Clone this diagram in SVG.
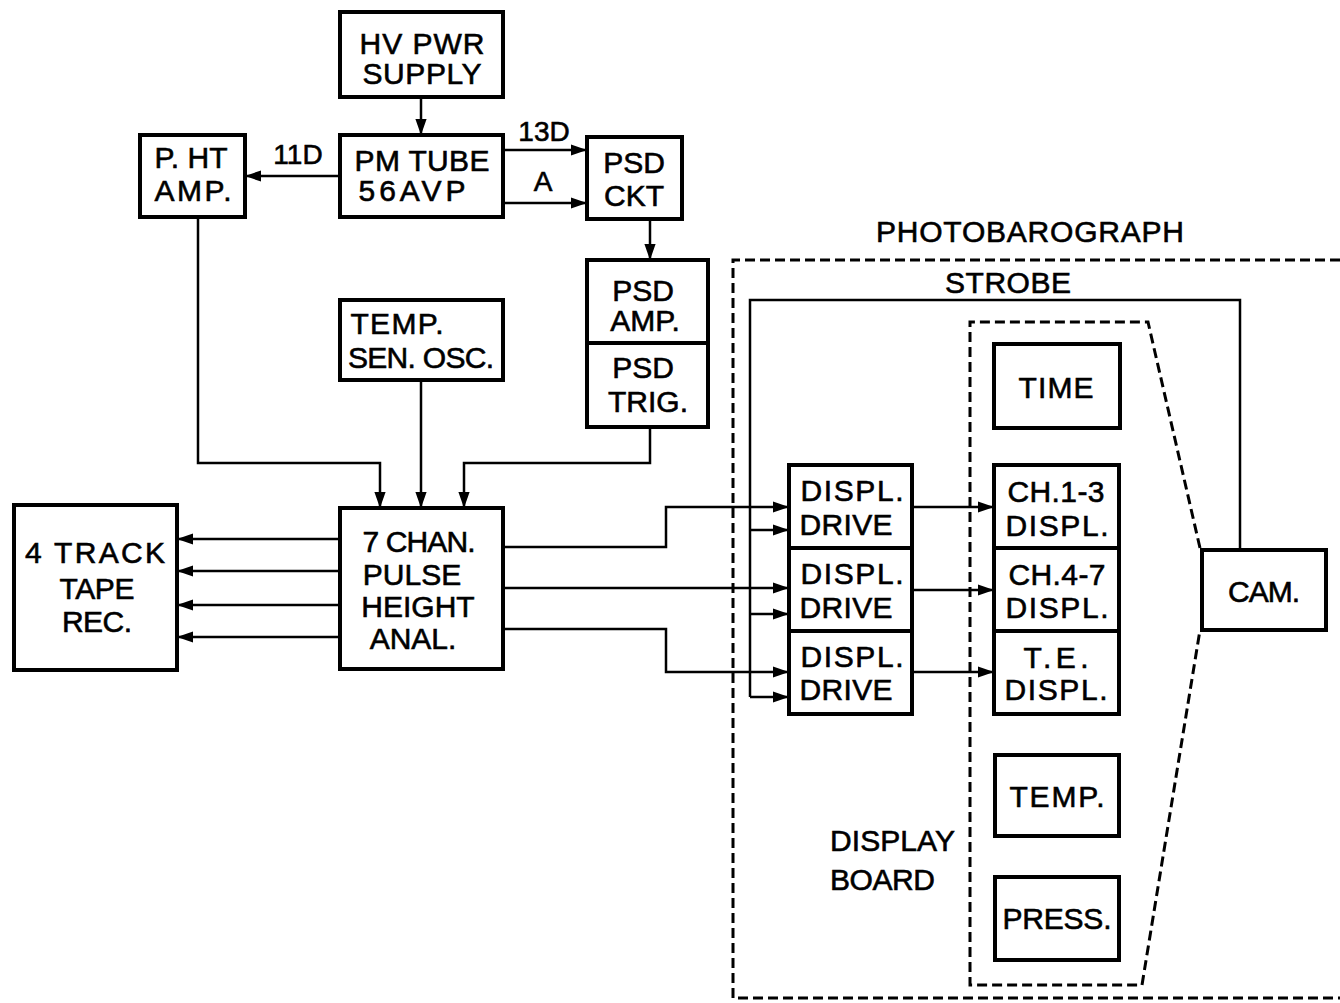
<svg xmlns="http://www.w3.org/2000/svg" width="1340" height="1003" viewBox="0 0 1340 1003">
<defs>
<marker id="ah" viewBox="0 0 10 10" refX="10" refY="5" markerWidth="16" markerHeight="16" markerUnits="userSpaceOnUse" orient="auto">
<path d="M0,1.5 L10,5 L0,8.5 Z" fill="#000"/>
</marker>
<style>
.box{fill:#fff;stroke:#000;stroke-width:4}
.ln{fill:none;stroke:#000;stroke-width:2.5}
.arr{fill:none;stroke:#000;stroke-width:2.5;marker-end:url(#ah)}
.dash{fill:none;stroke:#000;stroke-width:3;stroke-dasharray:10 5}
text{font-family:"Liberation Sans",Arial,sans-serif;font-size:30px;fill:#000;stroke:#000;stroke-width:0.6;text-anchor:middle}
.lbl{font-size:28px}
</style>
</defs>
<rect width="1340" height="1003" fill="#fff"/>

<g id="frames">
<path class="dash" d="M1340,260 L733,260 L733,998 L1340,998"/>
<path class="ln" d="M750,697 L750,300 L1240,300 L1240,550"/>
<path class="dash" d="M1200,548 L1148,322 L970,322 L970,985 L1142,985 L1200,630"/>
<text x="1030" y="242" textLength="308" lengthAdjust="spacing">PHOTOBAROGRAPH</text>
<text x="1008" y="293" textLength="126" lengthAdjust="spacing">STROBE</text>
<text x="830" y="851" style="text-anchor:start" textLength="125" lengthAdjust="spacing">DISPLAY</text>
<text x="830" y="890" style="text-anchor:start" textLength="105" lengthAdjust="spacing">BOARD</text>
</g>

<g id="connectors">
<path class="arr" d="M421,97 L421,135"/>
<path class="arr" d="M340,176 L245,176"/>
<path class="arr" d="M503,150 L587,150"/>
<path class="arr" d="M503,203 L587,203"/>
<path class="arr" d="M650,219 L650,260"/>
<path class="arr" d="M198,217 L198,463 L380,463 L380,508"/>
<path class="arr" d="M421,380 L421,508"/>
<path class="arr" d="M650,427 L650,463 L464,463 L464,508"/>
<path class="arr" d="M340,539 L177,539"/>
<path class="arr" d="M340,571 L177,571"/>
<path class="arr" d="M340,605 L177,605"/>
<path class="arr" d="M340,637 L177,637"/>
<path class="arr" d="M503,547 L666,547 L666,507 L789,507"/>
<path class="arr" d="M503,588 L789,588"/>
<path class="arr" d="M503,629 L666,629 L666,672 L789,672"/>
<path class="arr" d="M750,530 L789,530"/>
<path class="arr" d="M750,614 L789,614"/>
<path class="arr" d="M750,697 L789,697"/>
<path class="arr" d="M912,507 L994,507"/>
<path class="arr" d="M912,590 L994,590"/>
<path class="arr" d="M912,672 L994,672"/>
<text class="lbl" x="298" y="164">11D</text>
<text class="lbl" x="544" y="141">13D</text>
<text class="lbl" x="543" y="191">A</text>
</g>

<g id="hv">
<rect class="box" x="340" y="12" width="163" height="85"/>
<text x="422" y="54" textLength="125" lengthAdjust="spacing">HV PWR</text>
<text x="422" y="84" textLength="119" lengthAdjust="spacing">SUPPLY</text>
</g>
<g id="pm">
<rect class="box" x="340" y="135" width="163" height="82"/>
<text x="422" y="171" textLength="135" lengthAdjust="spacing">PM TUBE</text>
<text x="412" y="201" textLength="107" lengthAdjust="spacing">56AVP</text>
</g>
<g id="pht">
<rect class="box" x="140" y="135" width="105" height="82"/>
<text x="191" y="168" textLength="73" lengthAdjust="spacing">P. HT</text>
<text x="193" y="201" textLength="77" lengthAdjust="spacing">AMP.</text>
</g>
<g id="psdckt">
<rect class="box" x="587" y="137" width="95" height="82"/>
<text x="634" y="173">PSD</text>
<text x="634" y="206">CKT</text>
</g>
<g id="psdamp">
<rect class="box" x="587" y="260" width="121" height="83"/>
<text x="643" y="301">PSD</text>
<text x="645" y="331">AMP.</text>
</g>
<g id="psdtrig">
<rect class="box" x="587" y="343" width="121" height="84"/>
<text x="643" y="378">PSD</text>
<text x="648" y="412">TRIG.</text>
</g>
<g id="tempsen">
<rect class="box" x="340" y="300" width="163" height="80"/>
<text x="397" y="334" textLength="93" lengthAdjust="spacing">TEMP.</text>
<text x="421" y="368" textLength="146" lengthAdjust="spacing">SEN. OSC.</text>
</g>
<g id="pha">
<rect class="box" x="340" y="508" width="163" height="161"/>
<text x="419" y="552" textLength="113" lengthAdjust="spacing">7 CHAN.</text>
<text x="412" y="585">PULSE</text>
<text x="418" y="617">HEIGHT</text>
<text x="413" y="649">ANAL.</text>
</g>
<g id="tape">
<rect class="box" x="14" y="505" width="163" height="165"/>
<text x="95" y="563" textLength="140" lengthAdjust="spacing">4 TRACK</text>
<text x="97" y="599" textLength="75" lengthAdjust="spacing">TAPE</text>
<text x="97" y="632" textLength="70" lengthAdjust="spacing">REC.</text>
</g>
<g id="drive1">
<rect class="box" x="789" y="465" width="123" height="83"/>
<text x="852" y="501" textLength="103" lengthAdjust="spacing">DISPL.</text>
<text x="846" y="535" textLength="93" lengthAdjust="spacing">DRIVE</text>
</g>
<g id="drive2">
<rect class="box" x="789" y="548" width="123" height="83"/>
<text x="852" y="584" textLength="103" lengthAdjust="spacing">DISPL.</text>
<text x="846" y="618" textLength="93" lengthAdjust="spacing">DRIVE</text>
</g>
<g id="drive3">
<rect class="box" x="789" y="631" width="123" height="83"/>
<text x="852" y="667" textLength="103" lengthAdjust="spacing">DISPL.</text>
<text x="846" y="700" textLength="93" lengthAdjust="spacing">DRIVE</text>
</g>
<g id="ch13">
<rect class="box" x="994" y="465" width="125" height="83"/>
<text x="1056" y="502" textLength="97" lengthAdjust="spacing">CH.1-3</text>
<text x="1057" y="536" textLength="103" lengthAdjust="spacing">DISPL.</text>
</g>
<g id="ch47">
<rect class="box" x="994" y="548" width="125" height="83"/>
<text x="1057" y="585" textLength="97" lengthAdjust="spacing">CH.4-7</text>
<text x="1057" y="618" textLength="103" lengthAdjust="spacing">DISPL.</text>
</g>
<g id="te">
<rect class="box" x="994" y="631" width="125" height="83"/>
<text x="1056" y="668" textLength="65" lengthAdjust="spacing">T.E.</text>
<text x="1056" y="700" textLength="103" lengthAdjust="spacing">DISPL.</text>
</g>
<g id="time">
<rect class="box" x="994" y="344" width="126" height="84"/>
<text x="1056" y="398" textLength="75" lengthAdjust="spacing">TIME</text>
</g>
<g id="temp">
<rect class="box" x="995" y="755" width="124" height="81"/>
<text x="1057" y="807" textLength="95" lengthAdjust="spacing">TEMP.</text>
</g>
<g id="press">
<rect class="box" x="995" y="877" width="124" height="83"/>
<text x="1057" y="929" textLength="109" lengthAdjust="spacing">PRESS.</text>
</g>
<g id="cam">
<rect class="box" x="1202" y="550" width="124" height="80"/>
<text x="1264" y="602" textLength="72" lengthAdjust="spacing">CAM.</text>
</g>
</svg>
